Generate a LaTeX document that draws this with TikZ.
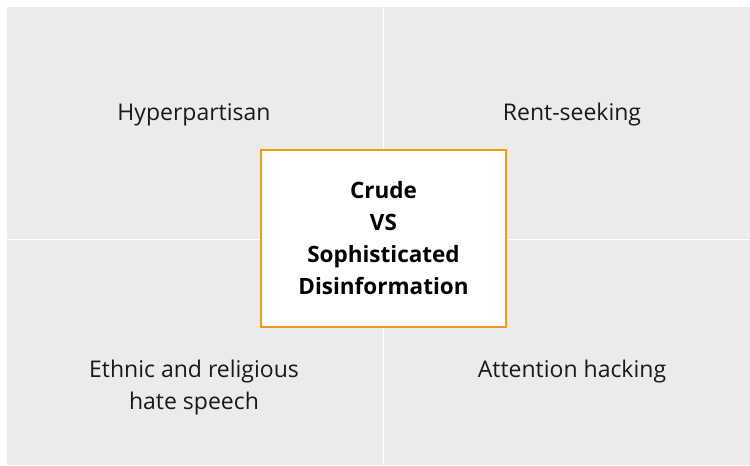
\documentclass[tikz,border=0pt]{standalone}
\usepackage{fontspec}
\setmainfont{Open Sans}
\definecolor{quadgray}{RGB}{235,235,235}
\definecolor{frameorange}{RGB}{243,156,18}
\begin{document}
\begin{tikzpicture}[x=1pt,y=-1pt,
  quad/.style={fill=quadgray,draw=none},
  label/.style={font=\fontsize{23}{32}\selectfont,align=center,text=black!90},
  core/.style={draw=frameorange,line width=2pt,fill=white,minimum width=245,minimum height=177,
    align=center,font=\fontsize{22.5}{32}\selectfont\bfseries}]
  \useasboundingbox (0,0) rectangle (750,466);
  \fill[white] (0,0) rectangle (750,466);
  % four quadrants separated by thin white gaps
  \fill[quad] (7,7) rectangle (382.5,238.5);
  \fill[quad] (383.5,7) rectangle (750,238.5);
  \fill[quad] (7,239.5) rectangle (382.5,465);
  \fill[quad] (383.5,239.5) rectangle (750,465);
  \node[label] (hp) at (194,115) {Hyperpartisan};
  \node[label] (rs) at (572,115) {Rent-seeking};
  \node[label] (eh) at (194,388) {Ethnic and religious\\hate speech};
  \node[label] (ah) at (572,372) {Attention hacking};
  \node[core] (c) at (383.5,238) {Crude\\VS\\Sophisticated\\Disinformation};
\end{tikzpicture}
\end{document}
